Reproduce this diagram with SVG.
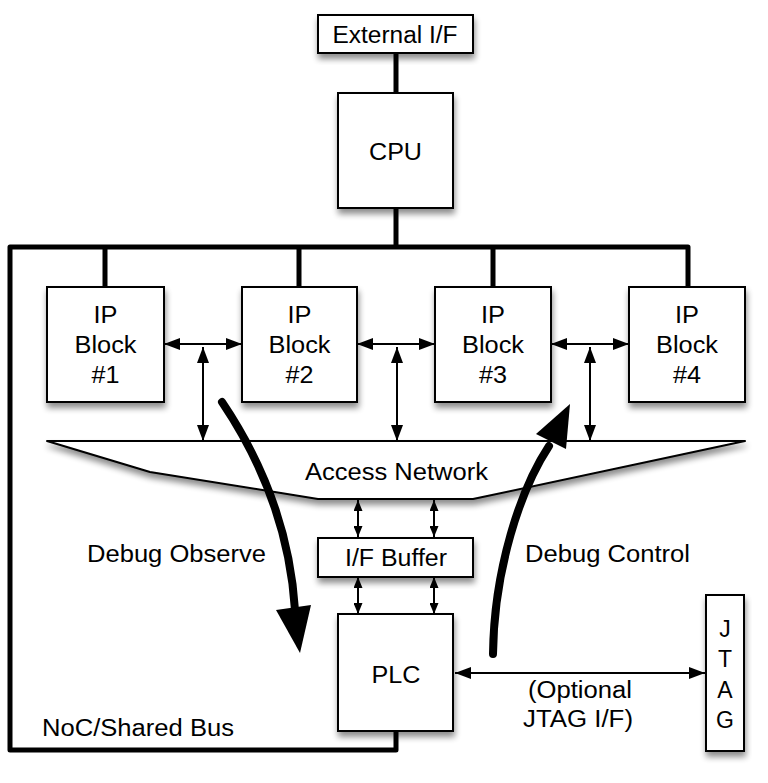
<svg xmlns="http://www.w3.org/2000/svg" width="768" height="783" viewBox="0 0 768 783">
<style>
  text { font-family: "Liberation Sans", Arial, Helvetica, sans-serif; font-size: 23px; fill: #000; }
  .box { fill: #fff; stroke: #000; stroke-width: 2; }
  .bus { fill: none; stroke: #000; stroke-width: 5; stroke-linejoin: round; }
  .thin { fill: none; stroke: #000; stroke-width: 2; }
  .big { fill: none; stroke: #000; stroke-width: 8; stroke-linecap: round; }
  .c { text-anchor: middle; }
</style>
<defs>
  <filter id="sh" x="-20%" y="-20%" width="140%" height="150%">
    <feGaussianBlur in="SourceAlpha" stdDeviation="3"/>
    <feOffset dx="1" dy="5" result="b"/>
    <feComponentTransfer><feFuncA type="linear" slope="0.45"/></feComponentTransfer>
    <feMerge><feMergeNode/><feMergeNode in="SourceGraphic"/></feMerge>
  </filter>
  <marker id="ah" viewBox="0 0 16 12" refX="16" refY="6" markerWidth="16" markerHeight="12" markerUnits="userSpaceOnUse" orient="auto-start-reverse">
    <path d="M0,0 L16,6 L0,12 z" fill="#000"/>
  </marker>
  <marker id="ahs" viewBox="0 0 11 9" refX="11" refY="4.5" markerWidth="11" markerHeight="9" markerUnits="userSpaceOnUse" orient="auto-start-reverse">
    <path d="M0,0 L11,4.5 L0,9 z" fill="#000"/>
  </marker>
</defs>
<rect width="768" height="783" fill="#fff"/>

<g id="connectors">
  <path class="bus" d="M396,53 V93"/>
  <path class="bus" d="M396,208 V247"/>
  <path class="bus" d="M688,287 V247 H10 V750 H396 V731"/>
  <path class="bus" d="M105,247 V287 M299,247 V287 M493,247 V287"/>
  <path class="thin" d="M164,344 H242" marker-start="url(#ah)" marker-end="url(#ah)"/>
  <path class="thin" d="M357,344 H435" marker-start="url(#ah)" marker-end="url(#ah)"/>
  <path class="thin" d="M551,344 H629" marker-start="url(#ah)" marker-end="url(#ah)"/>
  <path class="thin" d="M203,347 V441" marker-start="url(#ah)" marker-end="url(#ah)"/>
  <path class="thin" d="M397,347 V441" marker-start="url(#ah)" marker-end="url(#ah)"/>
  <path class="thin" d="M590,347 V441" marker-start="url(#ah)" marker-end="url(#ah)"/>
  <path class="thin" d="M358,500 V537" marker-start="url(#ahs)" marker-end="url(#ahs)"/>
  <path class="thin" d="M434,500 V537" marker-start="url(#ahs)" marker-end="url(#ahs)"/>
  <path class="thin" d="M358,577 V614" marker-start="url(#ahs)" marker-end="url(#ahs)"/>
  <path class="thin" d="M434,577 V614" marker-start="url(#ahs)" marker-end="url(#ahs)"/>
  <path class="thin" d="M455,673 H705" marker-start="url(#ah)" marker-end="url(#ah)"/>
</g>

<g id="access-network">
  <path class="box" filter="url(#sh)" d="M47,441 H745 L473,499 H318 L150,472 Z" stroke-width="1.8" stroke-linejoin="round"/>
  <text class="c" x="396.5" y="480" textLength="183" lengthAdjust="spacingAndGlyphs">Access Network</text>
</g>

<g id="external-if">
  <rect class="box" filter="url(#sh)" x="318" y="15" width="155" height="38"/>
  <text class="c" x="395" y="43" textLength="125" lengthAdjust="spacingAndGlyphs">External I/F</text>
</g>

<g id="cpu">
  <rect class="box" filter="url(#sh)" x="338" y="93" width="115" height="115"/>
  <text class="c" x="395.5" y="160" textLength="53" lengthAdjust="spacingAndGlyphs">CPU</text>
</g>

<g id="ip1">
  <rect class="box" filter="url(#sh)" x="47" y="287" width="117" height="115"/>
  <text class="c" x="105.5" y="323" textLength="24" lengthAdjust="spacingAndGlyphs">IP</text>
  <text class="c" x="105.5" y="353" textLength="62" lengthAdjust="spacingAndGlyphs">Block</text>
  <text class="c" x="105.5" y="383" textLength="28" lengthAdjust="spacingAndGlyphs">#1</text>
</g>
<g id="ip2">
  <rect class="box" filter="url(#sh)" x="242" y="287" width="115" height="115"/>
  <text class="c" x="299.5" y="323" textLength="24" lengthAdjust="spacingAndGlyphs">IP</text>
  <text class="c" x="299.5" y="353" textLength="62" lengthAdjust="spacingAndGlyphs">Block</text>
  <text class="c" x="299.5" y="383" textLength="28" lengthAdjust="spacingAndGlyphs">#2</text>
</g>
<g id="ip3">
  <rect class="box" filter="url(#sh)" x="435" y="287" width="116" height="115"/>
  <text class="c" x="493" y="323" textLength="24" lengthAdjust="spacingAndGlyphs">IP</text>
  <text class="c" x="493" y="353" textLength="62" lengthAdjust="spacingAndGlyphs">Block</text>
  <text class="c" x="493" y="383" textLength="28" lengthAdjust="spacingAndGlyphs">#3</text>
</g>
<g id="ip4">
  <rect class="box" filter="url(#sh)" x="629" y="287" width="116" height="115"/>
  <text class="c" x="687" y="323" textLength="24" lengthAdjust="spacingAndGlyphs">IP</text>
  <text class="c" x="687" y="353" textLength="62" lengthAdjust="spacingAndGlyphs">Block</text>
  <text class="c" x="687" y="383" textLength="28" lengthAdjust="spacingAndGlyphs">#4</text>
</g>

<g id="if-buffer">
  <rect class="box" filter="url(#sh)" x="318" y="538" width="155" height="39"/>
  <text class="c" x="396" y="566" textLength="102" lengthAdjust="spacingAndGlyphs">I/F Buffer</text>
</g>

<g id="plc">
  <rect class="box" filter="url(#sh)" x="338" y="614" width="115" height="117"/>
  <text class="c" x="396" y="683" textLength="49" lengthAdjust="spacingAndGlyphs">PLC</text>
</g>

<g id="jtag">
  <rect class="box" filter="url(#sh)" x="706" y="595" width="38" height="156"/>
  <text class="c" x="725" y="637">J</text>
  <text class="c" x="725" y="667">T</text>
  <text class="c" x="725" y="698">A</text>
  <text class="c" x="725" y="728">G</text>
</g>

<g id="flow-arrows">
  <path class="big" d="M222,402 Q288,500 295,610"/>
  <polygon points="276,610 311,605 300,653" fill="#000"/>
  <path class="big" d="M493,654 C494,570 520,490 549,446"/>
  <polygon points="536,434 566,449 570,404" fill="#000"/>
</g>

<g id="labels">
  <text x="87" y="562" textLength="179" lengthAdjust="spacingAndGlyphs">Debug Observe</text>
  <text x="525" y="562" textLength="165" lengthAdjust="spacingAndGlyphs">Debug Control</text>
  <text x="42" y="736" textLength="192" lengthAdjust="spacingAndGlyphs">NoC/Shared Bus</text>
  <text x="528" y="698" textLength="104" lengthAdjust="spacingAndGlyphs">(Optional</text>
  <text x="523" y="727" textLength="110" lengthAdjust="spacingAndGlyphs">JTAG I/F)</text>
</g>
</svg>
